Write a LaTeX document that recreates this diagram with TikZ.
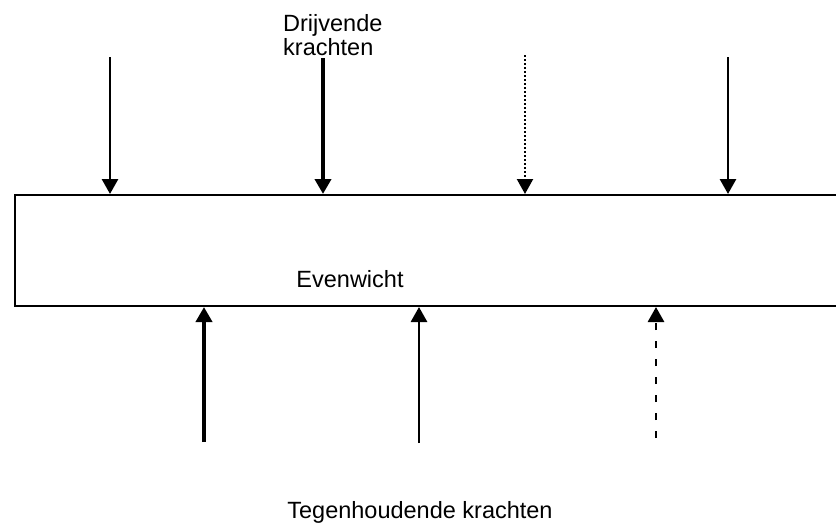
\documentclass[tikz,border=0pt]{standalone}
\usepackage{fontspec}
\setmainfont{Liberation Sans}
\usetikzlibrary{arrows.meta}
\begin{document}
\begin{tikzpicture}[x=1pt,y=-1pt,
  lbl/.style={inner sep=0pt,font=\fontsize{23.5}{24}\selectfont},
  force/.style={-{Triangle[length=15pt,width=16pt]},line width=2.8pt},
  strong/.style={force,line width=4pt},
  dotline/.style={force,dash pattern=on 2pt off 2pt,line width=2.2pt},
  dashline/.style={force,dash pattern=on 7pt off 11pt,line width=2.8pt}]
\useasboundingbox (0,0) rectangle (836,528);
\node[draw,line width=2pt,minimum width=836pt,minimum height=111pt,inner sep=0pt,anchor=north west] (box) at (14,194) {};
\node[lbl,anchor=base] (ev) at (350,287) {Evenwicht};
\node[lbl,anchor=base west,align=left] (drv) at (283,55) {Drijvende\\krachten};
\node[lbl,anchor=base] (teg) at (420,518) {Tegenhoudende krachten};
% driving forces
\coordinate (d1) at (110,57);
\coordinate (d2) at (323,58);
\coordinate (d3) at (525,55);
\coordinate (d4) at (728,57);
\draw[force] (d1) -- (d1 |- box.north);
\draw[strong] (d2) -- (d2 |- box.north);
\draw[dotline] (d3) -- (d3 |- box.north);
\draw[force] (d4) -- (d4 |- box.north);
% restraining forces
\coordinate (r1) at (204,442);
\coordinate (r2) at (419,443);
\coordinate (r3) at (656,438);
\draw[strong] (r1) -- (r1 |- box.south);
\draw[force] (r2) -- (r2 |- box.south);
\draw[dashline] (r3) -- (r3 |- box.south);
\end{tikzpicture}
\end{document}
